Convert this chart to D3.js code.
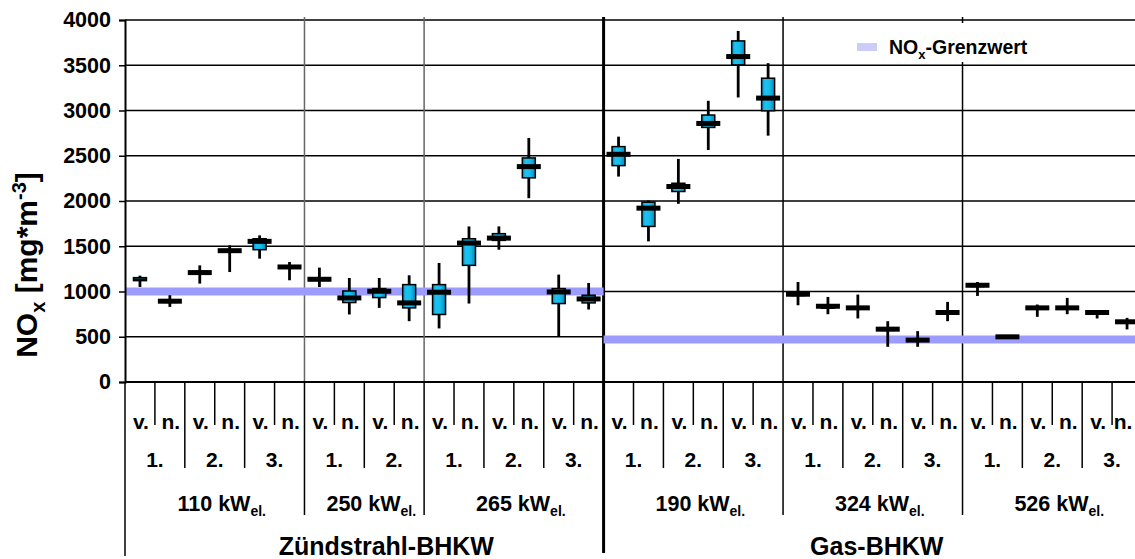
<!DOCTYPE html>
<html><head><meta charset="utf-8">
<script src="https://cdn.jsdelivr.net/npm/d3@7"></script>
<style>body{margin:0;background:#fff;}svg{display:block;font-family:"Liberation Sans",Arial,sans-serif;font-weight:bold;}</style>
</head><body><svg id="c" width="1135" height="559"></svg>
<script>
// ---- data ----
const engineTypes = ["Zündstrahl-BHKW", "Gas-BHKW"];
const plants = ["110", "250", "265", "190", "324", "526"];
const plantEngine = [0, 0, 0, 1, 1, 1];
const plantRuns = [3, 2, 3, 3, 3, 3];
const phases = ["v.", "n."];
const runLabels = ["1.", "2.", "3."];
const limits = [1000, 470];           // NOx-Grenzwert per engine type
const yTicks = [0, 500, 1000, 1500, 2000, 2500, 3000, 3500, 4000];
// box statistics per measurement (34 measurements, in order)
const whiskerLow  = [1050, 830,1087,1215,1363,1124, 1050, 746, 819, 672, 592, 867,1462,2031, 507, 801, 2270,1554,1969,2564,3144,2722, 848, 749, 702, 389, 389, 672, 951, 490, 720, 749, 702, 581];
const boxLow      = [1120, 880,1195,1440,1462,1260, 1125, 878, 933, 819, 746,1289,1565,2256, 867, 874, 2391,1719,2105,2813,3504,2997, 955, 815, 805, 570, 450, 755,1055, 490, 805, 805, 755, 652];
const medians     = [null, 893,1209,1451,1554,1271, 1135, 929,1003, 874, 992,1535,1590,2380, 995, 918, 2516,1921,2160,2857,3596,3137, 970, 837, 819, 584, 463, 768,1069, 499, 819, 819, 768, 665];
const boxHigh     = [1153, 905,1222,1462,1583,1282, 1150,1006,1032,1076,1076,1583,1639,2476,1032, 959, 2601,1987,2196,2950,3769,3357, 985, 850, 830, 598, 475, 780,1080, 507, 830, 830, 780, 678];
const whiskerHigh = [1175, 959,1289,1510,1620,1326, 1264,1149,1149,1179,1315,1719,1719,2696,1187,1094, 2711,2006,2465,3107,3879,3523,1105, 940, 966, 672, 562, 885,1105, 507, 856, 929, 793, 709];

// ---- build category list ----
const cats = [];
plants.forEach((p, pi) => {
  for (let r = 0; r < plantRuns[pi]; r++) {
    phases.forEach((ph, k) => cats.push({plant: pi, run: r, phase: k, engine: plantEngine[pi]}));
  }
});
cats.forEach((c, i) => { c.i = i; c.wl = whiskerLow[i]; c.bl = boxLow[i]; c.med = medians[i]; c.bh = boxHigh[i]; c.wh = whiskerHigh[i]; });

const svg = d3.select("#c");
const W = 1135;
const pL = 125, pR = 1142, pT = 20, pB = 382;
const x = d3.scaleBand().domain(cats.map(c => c.i)).range([pL, pR]).padding(0);
const y = d3.scaleLinear().domain([0, 4000]).range([pB, pT]);
const bw = x.bandwidth();

const defs = svg.append("defs");
const grad = defs.append("linearGradient").attr("id", "boxg").attr("x1", "0").attr("x2", "1").attr("y1", "0").attr("y2", "0");
[["0%", "#0a86b8"], ["25%", "#1cc2f0"], ["60%", "#16bcea"], ["100%", "#0a86b8"]].forEach(s => grad.append("stop").attr("offset", s[0]).attr("stop-color", s[1]));

function extentOf(filter) {
  const idx = cats.filter(filter).map(c => c.i);
  return [x(d3.min(idx)), x(d3.max(idx)) + bw];
}
const engineExt = engineTypes.map((e, ei) => extentOf(c => c.engine === ei));
const plantExt = plants.map((p, pi) => extentOf(c => c.plant === pi));

// gridlines
svg.append("g").selectAll("line").data(yTicks.filter(t => t > 0)).join("line")
  .attr("x1", pL).attr("x2", W).attr("y1", d => y(d)).attr("y2", d => y(d))
  .attr("stroke", "#000").attr("stroke-width", 1.5);

// plant separators in plot area
plants.forEach((p, pi) => {
  if (pi === 0) return;
  const xx = plantExt[pi][0];
  const isEngine = plantEngine[pi] !== plantEngine[pi - 1];
  svg.append("line").attr("x1", xx).attr("x2", xx).attr("y1", pT - 3).attr("y2", pB)
    .attr("stroke", isEngine ? "#000" : (plantEngine[pi] === 0 ? "#666" : "#000"))
    .attr("stroke-width", isEngine ? 3 : 1.5);
});

// limit lines
engineTypes.forEach((e, ei) => {
  svg.append("line").attr("x1", engineExt[ei][0]).attr("x2", Math.min(engineExt[ei][1], W))
    .attr("y1", y(limits[ei])).attr("y2", y(limits[ei]))
    .attr("stroke", "#9c9cff").attr("stroke-width", 8);
});

// boxes
const g = svg.append("g").selectAll("g").data(cats).join("g")
  .attr("transform", d => `translate(${x(d.i) + bw / 2},0)`);
g.append("line").attr("y1", d => y(d.wl)).attr("y2", d => y(d.wh)).attr("stroke", "#000").attr("stroke-width", 2.8);
g.append("rect").attr("x", -6.5).attr("width", 13)
  .attr("y", d => y(d.bh)).attr("height", d => Math.max(1, y(d.bl) - y(d.bh)))
  .attr("fill", "url(#boxg)").attr("stroke", "#000").attr("stroke-width", 1.5);
g.filter(d => d.med === null).append("line").attr("x1", -6).attr("x2", 6)
  .attr("y1", d => y((d.bl + d.bh) / 2)).attr("y2", d => y((d.bl + d.bh) / 2)).attr("stroke", "#000").attr("stroke-width", 1.5);
g.filter(d => d.med !== null).append("rect").attr("x", -12).attr("width", 24)
  .attr("y", d => y(d.med) - 2.5).attr("height", 5).attr("fill", "#000");

// legend
svg.append("rect").attr("x", 845).attr("y", 23).attr("width", 225).attr("height", 39).attr("fill", "#fff");
svg.append("rect").attr("x", 857).attr("y", 43).attr("width", 20).attr("height", 8).attr("fill", "#ccccfa");
const lt = svg.append("text").attr("x", 889).attr("y", 54).attr("font-size", 19.5).attr("fill", "#000");
lt.append("tspan").text("NO");
lt.append("tspan").attr("font-size", 13).attr("dy", 5).text("x");
lt.append("tspan").attr("dy", -5).text("-Grenzwert");

// y axis
const yAxis = svg.append("g").attr("transform", `translate(${pL},0)`)
  .call(d3.axisLeft(y).tickValues(yTicks).tickSize(6).tickPadding(8).tickFormat(d3.format("d")));
yAxis.select(".domain").attr("stroke", "#000").attr("stroke-width", 2);
yAxis.selectAll(".tick line").attr("stroke", "#000").attr("stroke-width", 1.5);
yAxis.selectAll("text").attr("font-size", 21.5).attr("font-weight", "bold").attr("font-family", "'Liberation Sans',Arial,sans-serif").attr("fill", "#000");

// y title
const yt = svg.append("text").attr("transform", "translate(37,265) rotate(-90)").attr("text-anchor", "middle")
  .attr("font-size", 30).attr("fill", "#000");
yt.append("tspan").text("NO");
yt.append("tspan").attr("font-size", 20).attr("dy", 8).text("x");
yt.append("tspan").attr("dy", -8).text(" [mg*m");
yt.append("tspan").attr("font-size", 20).attr("dy", -11).text("-3");
yt.append("tspan").attr("dy", 11).text("]");

// x axis line
svg.append("line").attr("x1", pL).attr("x2", W).attr("y1", pB).attr("y2", pB).attr("stroke", "#000").attr("stroke-width", 2);

// category separators
const sep = svg.append("g").attr("stroke", "#000").attr("stroke-width", 1.5);
cats.forEach((c, i) => {
  const xx = x(c.i);
  let y2;
  if (i === 0) y2 = 556;
  else if (c.engine !== cats[i - 1].engine) y2 = 553;
  else if (c.plant !== cats[i - 1].plant) y2 = 515;
  else if (c.run !== cats[i - 1].run) y2 = 468;
  else y2 = 425;
  sep.append("line").attr("x1", xx).attr("x2", xx).attr("y1", pB).attr("y2", y2)
    .attr("stroke-width", (i > 0 && c.engine !== cats[i - 1].engine) ? 3 : 1.5);
});

// row 1: v./n.
svg.append("g").selectAll("text").data(cats).join("text")
  .attr("x", d => Math.min(x(d.i) + bw / 2 + 1, W - 12)).attr("y", 429).attr("text-anchor", "middle").attr("font-size", 21)
  .text(d => phases[d.phase]);

// row 2: run numbers
const runs = [];
plants.forEach((p, pi) => { for (let r = 0; r < plantRuns[pi]; r++) runs.push({pi, r}); });
svg.append("g").selectAll("text").data(runs).join("text")
  .attr("x", d => { const e = extentOf(c => c.plant === d.pi && c.run === d.r); return Math.min((e[0] + e[1]) / 2, W - 20); })
  .attr("y", 467).attr("text-anchor", "middle").attr("font-size", 21)
  .text(d => runLabels[d.r]);

// row 3: plant power
plants.forEach((p, pi) => {
  const cx = (plantExt[pi][0] + plantExt[pi][1]) / 2 + 7;
  const t = svg.append("text").attr("x", cx).attr("y", 511).attr("text-anchor", "middle").attr("font-size", 21.5);
  t.append("tspan").text(p + " kW");
  t.append("tspan").attr("font-size", 14).attr("dy", 5).text("el.");
});

// row 4: engine type
engineTypes.forEach((e, ei) => {
  const cx = (engineExt[ei][0] + engineExt[ei][1]) / 2 + (ei === 0 ? 22 : 4);
  svg.append("text").attr("x", cx).attr("y", 555).attr("text-anchor", "middle").attr("font-size", 25).text(e);
});
</script></body></html>
